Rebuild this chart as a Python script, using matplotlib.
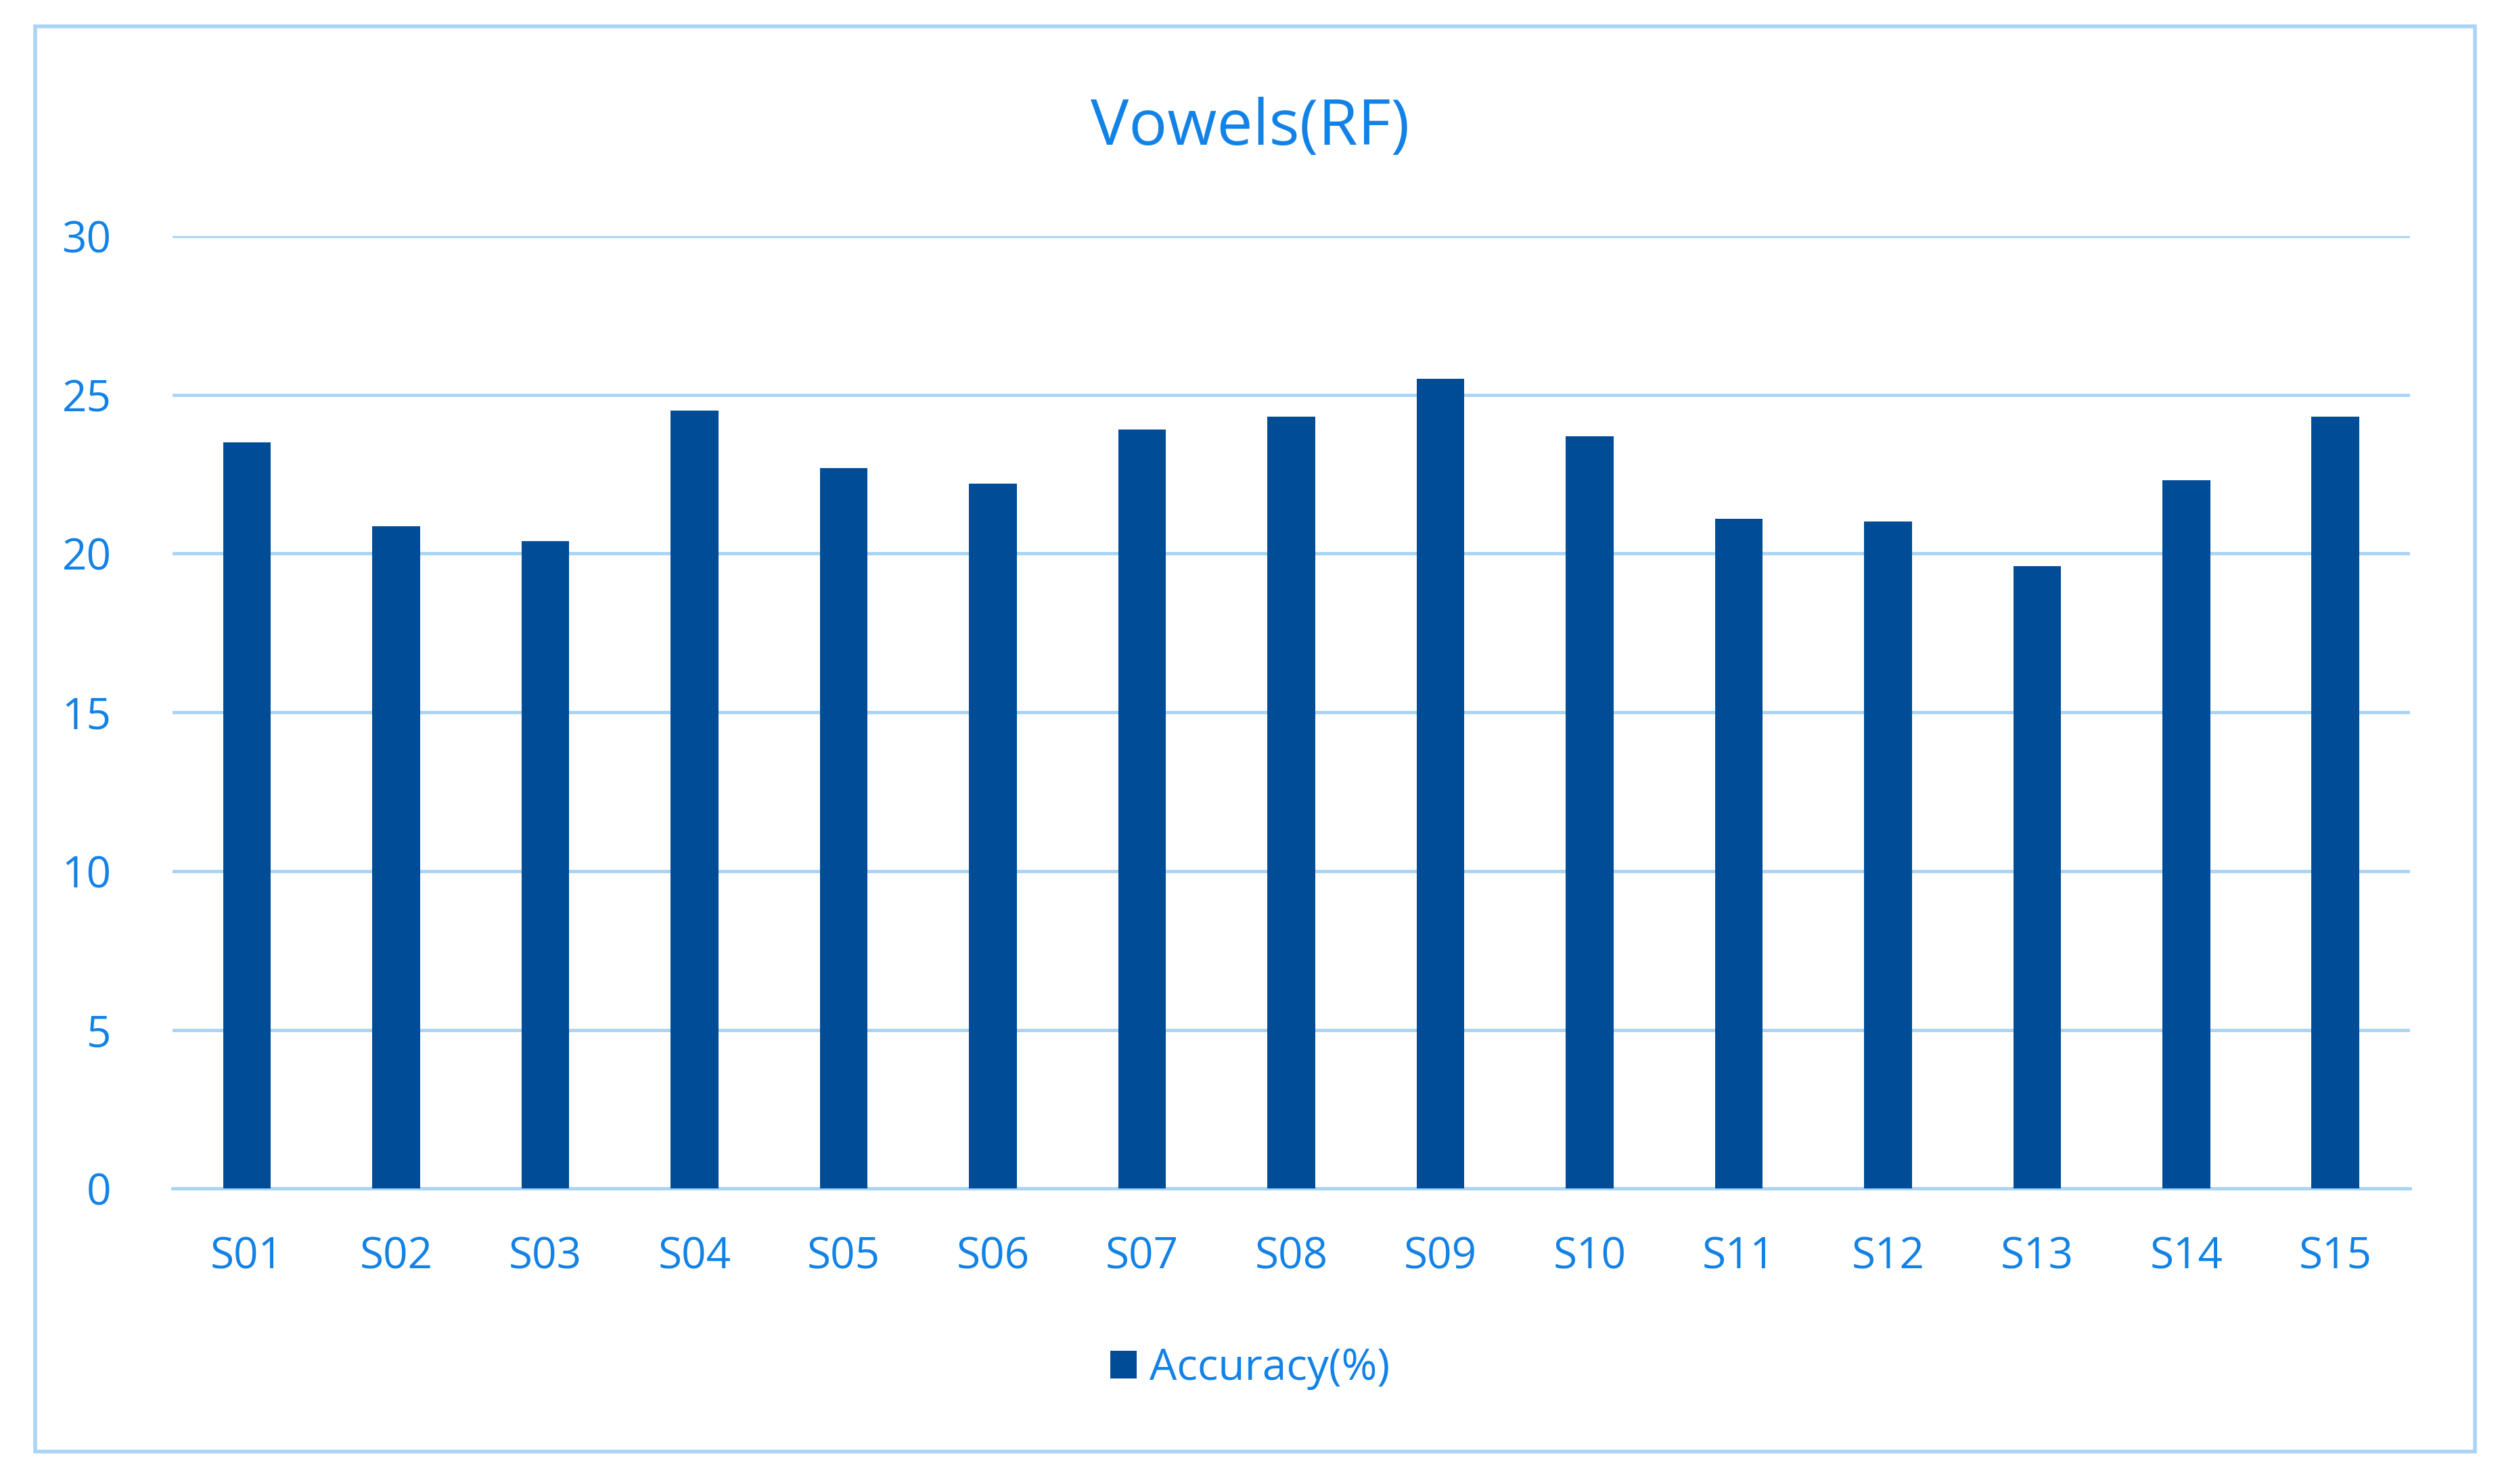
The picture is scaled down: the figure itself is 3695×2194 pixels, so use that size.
import matplotlib.pyplot as plt
from matplotlib.patches import Rectangle

subjects = ["S01", "S02", "S03", "S04", "S05", "S06", "S07", "S08",
            "S09", "S10", "S11", "S12", "S13", "S14", "S15"]
accuracy = [23.5, 20.85, 20.4, 24.5, 22.7, 22.2, 23.9, 24.3,
            25.5, 23.7, 21.1, 21.0, 19.6, 22.3, 24.3]

text_blue = "#1282e6"
bar_blue = "#004c97"
grid_blue = "#a9d4f5"

plt.rcParams["font.family"] = ["Open Sans", "DejaVu Sans"]

fig = plt.figure(figsize=(36.95, 21.94), dpi=100)
fig.patches.append(Rectangle((0.014, 0.022), 0.976, 0.96, transform=fig.transFigure,
                             fill=False, edgecolor=grid_blue, linewidth=4))
ax = fig.add_axes([0.069, 0.199, 0.895, 0.642])

x = range(len(subjects))
ax.bar(x, accuracy, width=0.32, color=bar_blue, label="Accuracy(%)", zorder=3)
ax.set_xlim(-0.5, len(subjects) - 0.5)
ax.set_ylim(0, 30)
ax.set_yticks(range(0, 31, 5))
ax.set_xticks(list(x))
ax.set_xticklabels(subjects)
ax.yaxis.grid(True, color=grid_blue, linewidth=3.5, zorder=0)
for s in ["top", "right", "left"]:
    ax.spines[s].set_visible(False)
ax.spines["bottom"].set_color(grid_blue)
ax.spines["bottom"].set_linewidth(3.5)
ax.tick_params(length=0, labelsize=46, labelcolor=text_blue)
ax.tick_params(axis="x", pad=50)
ax.tick_params(axis="y", pad=65)

fig.suptitle("Vowels(RF)", y=0.935, fontsize=68, color=text_blue)
fig.legend(loc="center", bbox_to_anchor=(0.5, 0.078), frameon=False, fontsize=46,
           labelcolor=text_blue, handlelength=0.6, handleheight=0.6, handletextpad=0.3)

fig.savefig("out.png")
